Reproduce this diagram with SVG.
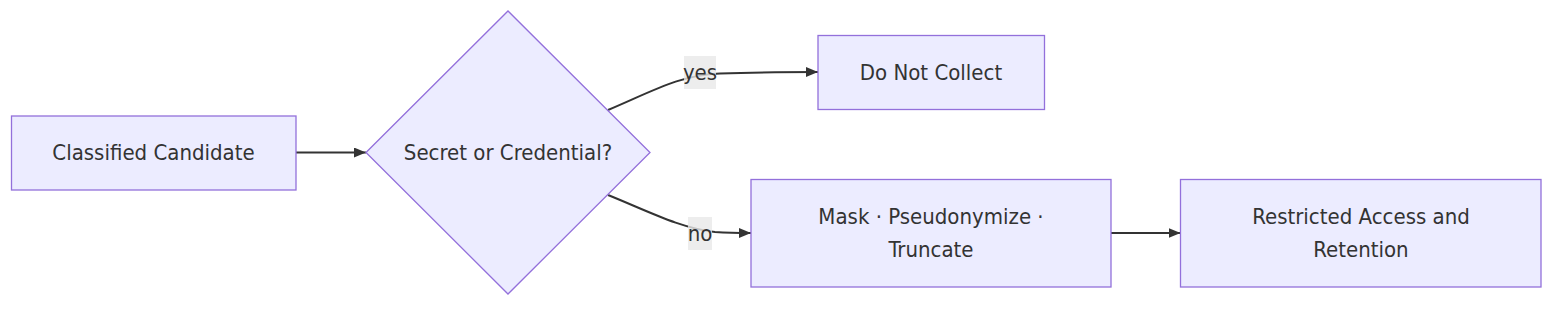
<svg xmlns="http://www.w3.org/2000/svg" width="1568" height="310" viewBox="0 0 1568 310">
<style>
.node rect, .node polygon { fill: #ECECFF; stroke: #9370DB; stroke-width: 1.3; }
.lbl { font-family: "DejaVu Sans Condensed", "DejaVu Sans", "Liberation Sans", sans-serif; font-stretch: condensed; font-size: 22px; fill: #333333; text-anchor: middle; }
.edge { fill: none; stroke: #333333; stroke-width: 2; }
.elbg { fill: rgba(232,232,232,0.8); }
</style>
<defs>
<marker id="arrow" viewBox="0 0 12 10" refX="12" refY="5" markerWidth="12" markerHeight="10" markerUnits="userSpaceOnUse" orient="auto">
<path d="M0,0 L12,5 L0,10 z" fill="#333333"/>
</marker>
</defs>
<g id="connectors">
<path class="edge" d="M296,152.5 L366,152.5" marker-end="url(#arrow)"/>
<path class="edge" d="M608,110 C655,90 680,75 720,73.5 C760,72 790,72 818,72" marker-end="url(#arrow)"/>
<path class="edge" d="M608,195 C650,212 680,228 715,232 C730,233 740,233 751,233" marker-end="url(#arrow)"/>
<path class="edge" d="M1111,233 L1180.5,233" marker-end="url(#arrow)"/>
<g id="label-yes">
<rect class="elbg" x="684" y="56" width="32" height="33"/>
<text class="lbl" x="700" y="80">yes</text>
</g>
<g id="label-no">
<rect class="elbg" x="688" y="217" width="24" height="33"/>
<text class="lbl" x="700" y="241">no</text>
</g>
</g>
<g id="node-candidate" class="node">
<rect x="11.5" y="116" width="284.5" height="74"/>
<text class="lbl" x="153.5" y="160">Classified Candidate</text>
</g>
<g id="node-decision" class="node">
<polygon points="366,152.5 508,11 650,152.5 508,294"/>
<text class="lbl" x="508" y="160">Secret or Credential?</text>
</g>
<g id="node-donotcollect" class="node">
<rect x="818" y="35.5" width="226.5" height="74"/>
<text class="lbl" x="931" y="79.5">Do Not Collect</text>
</g>
<g id="node-mask" class="node">
<rect x="751" y="179.5" width="360" height="107.5"/>
<text class="lbl" x="931" y="223.5">Mask · Pseudonymize ·</text>
<text class="lbl" x="931" y="256.5">Truncate</text>
</g>
<g id="node-restricted" class="node">
<rect x="1180.5" y="179.5" width="360.5" height="107.5"/>
<text class="lbl" x="1361" y="223.5">Restricted Access and</text>
<text class="lbl" x="1361" y="256.5">Retention</text>
</g>
</svg>
